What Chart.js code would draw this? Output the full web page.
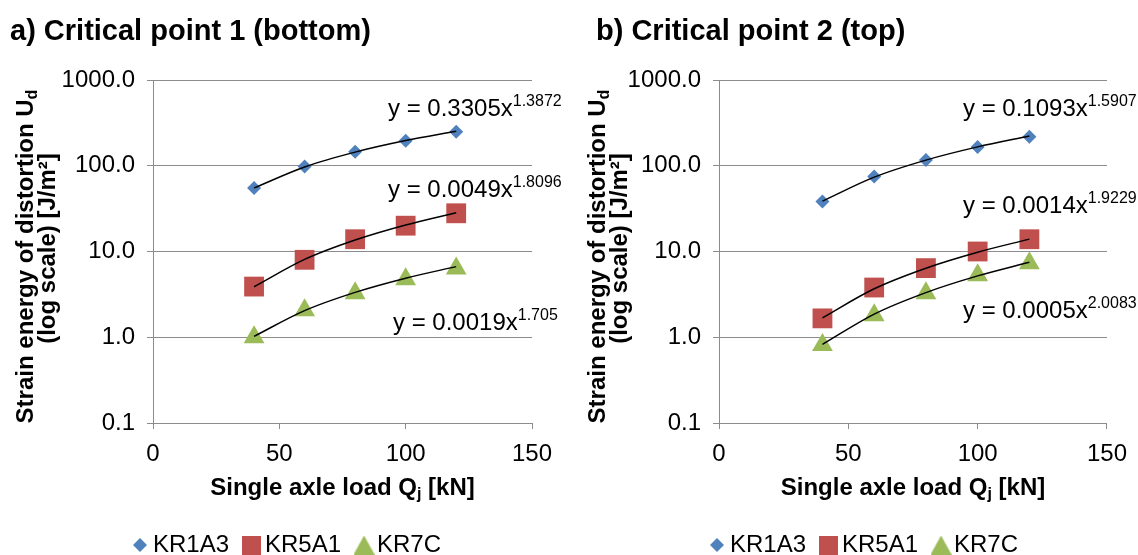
<!DOCTYPE html>
<html>
<head>
<meta charset="utf-8">
<script src="https://cdn.jsdelivr.net/npm/chart.js@4.4.1/dist/chart.umd.min.js"></script>
<style>
    body { margin: 0; background: #fff; width: 1138px; height: 555px; overflow: hidden; position: relative; }
    canvas { position: absolute; top: 0; }
</style>
</head>
<body>
<canvas id="chartA" width="575" height="555" style="left:0"></canvas>
<canvas id="chartB" width="563" height="555" style="left:575px"></canvas>
<script>
// x values (single axle load, kN) and axis ticks
const loads = [40, 60, 80, 100, 120];
const xTicks = [0, 50, 100, 150];
const yTicks = [0.1, 1, 10, 100, 1000];
const seriesNames = ["KR1A3", "KR5A1", "KR7C"];

// a) critical point 1 (bottom)
const bottomKR1A3 = [55, 98, 146, 196, 249];
const bottomKR5A1 = [3.9, 8.0, 13.9, 20.0, 27.9];
const bottomKR7C = [1.0, 2.07, 3.26, 4.75, 6.35];
const bottomCoef = [0.3305, 0.0049, 0.0019];
const bottomExp = [1.3872, 1.8096, 1.705];

// b) critical point 2 (top)
const topKR1A3 = [38.3, 75, 117, 166, 218];
const topKR5A1 = [1.66, 3.8, 6.4, 10.0, 13.9];
const topKR7C = [0.81, 1.8, 3.26, 5.3, 7.3];
const topCoef = [0.1093, 0.0014, 0.0005];
const topExp = [1.5907, 1.9229, 2.0083];

const FONT = "'Liberation Sans', Arial, sans-serif";
const colors = ["#4F81BD", "#C0504D", "#9BBB59"];
const styles = ["rectRot", "rect", "triangle"];
const radii = [7, 14, 12];
const gridColor = "#8c8c8c";
const H = 555;
const PAD_BOTTOM = -12;
const FS = 24;

Chart.defaults.font.family = FONT;

function makeIcon(i) {
    let c = document.createElement("canvas");
    let sizes = [[14, 14], [19, 19], [21, 19]];
    c.width = sizes[i][0];
    c.height = sizes[i][1];
    let ctx = c.getContext("2d");
    ctx.fillStyle = colors[i];
    ctx.beginPath();
    if (i == 0) {
        ctx.moveTo(7, 0); ctx.lineTo(14, 7); ctx.lineTo(7, 14); ctx.lineTo(0, 7);
    } else if (i == 1) {
        ctx.rect(0, 0, 19, 19);
    } else {
        ctx.moveTo(10.5, 0); ctx.lineTo(21, 19); ctx.lineTo(0, 19);
    }
    ctx.fill();
    return c;
}
const legendIcons = [0, 1, 2].map(makeIcon);

function drawRuns(ctx, runs, x, y, weight) {
    runs.forEach(([t, size, dy]) => {
        ctx.font = `${weight} ${size}px ${FONT}`;
        ctx.fillText(t, x, y + dy);
        x += ctx.measureText(t).width;
    });
}

function runsWidth(ctx, runs, weight) {
    return runs.reduce((acc, [t, size]) => {
        ctx.font = `${weight} ${size}px ${FONT}`;
        return acc + ctx.measureText(t).width;
    }, 0);
}

function textPlugin(cfg) {
    return {
        id: "textDeco",
        afterDraw(chart) {
            const ctx = chart.ctx;
            const area = chart.chartArea;
            ctx.save();
            ctx.fillStyle = "#000";
            ctx.textAlign = "left";
            ctx.textBaseline = "alphabetic";
            drawRuns(ctx, [[cfg.title, 29, 0]], cfg.titleX, 40, "bold");

            // equations of the trendlines
            cfg.coef.forEach((a, i) => {
                let [ex, ey] = cfg.eqPos[i];
                drawRuns(ctx, [["y = " + a + "x", FS, 0], [String(cfg.expo[i]), 16, -10]], ex, ey, "normal");
            });

            // x axis title
            ctx.textBaseline = "middle";
            let xr = [["Single axle load Q", FS, 0], ["j", 16, 7], [" [kN]", FS, 0]];
            let cx = (area.left + area.right) / 2;
            drawRuns(ctx, xr, cx - runsWidth(ctx, xr, "bold") / 2, 488, "bold");

            // y axis title, two rotated lines
            let cy = (area.top + area.bottom) / 2;
            let lines = [
                [["Strain energy of distortion U", FS, 0], ["d", 16, 7]],
                [["(log scale) [J/m\u00B2]", FS, 0]]
            ];
            let shift = [5, -3];
            lines.forEach((runs, k) => {
                ctx.save();
                ctx.translate(cfg.yTitleX[k], cy + shift[k]);
                ctx.rotate(-Math.PI / 2);
                drawRuns(ctx, runs, -runsWidth(ctx, runs, "bold") / 2, 0, "bold");
                ctx.restore();
            });
            ctx.restore();
        }
    };
}

function makeChart(id, values, coef, expo, area, canvasW, legendCenter, cfg) {
    let datasets = [];
    values.forEach((vals, i) => {
        datasets.push({
            label: seriesNames[i],
            data: loads.map((x, k) => ({ x: x, y: vals[k] })),
            pointStyle: styles[i],
            pointRadius: radii[i],
            pointHoverRadius: radii[i],
            backgroundColor: colors[i],
            borderColor: colors[i],
            borderWidth: 0,
            order: 2
        });
    });
    // power trendlines y = a * x^b, evaluated at the measured loads
    coef.forEach((a, i) => {
        datasets.push({
            label: "trend",
            data: loads.map(x => ({ x: x, y: a * Math.pow(x, expo[i]) })),
            showLine: true,
            borderColor: "#000",
            borderWidth: 1.5,
            pointRadius: 0,
            cubicInterpolationMode: "monotone",
            order: 1
        });
    });

    let padRight = canvasW - area.right;
    let padLeft = 2 * legendCenter - (canvasW - padRight);

    return new Chart(document.getElementById(id), {
        type: "scatter",
        data: { datasets: datasets },
        options: {
            responsive: false,
            animation: false,
            devicePixelRatio: 1,
            layout: { padding: { top: area.top, left: padLeft, right: padRight, bottom: PAD_BOTTOM } },
            plugins: {
                tooltip: { enabled: false },
                title: { display: false },
                legend: {
                    position: "bottom",
                    labels: {
                        usePointStyle: true,
                        boxWidth: 2,
                        boxHeight: 2,
                        padding: 22,
                        color: "#000",
                        font: { size: FS },
                        generateLabels: () => seriesNames.map((name, i) => ({
                            text: name,
                            pointStyle: legendIcons[i],
                            fillStyle: colors[i],
                            strokeStyle: colors[i],
                            lineWidth: 0,
                            hidden: false,
                            datasetIndex: i,
                            fontColor: "#000"
                        }))
                    }
                }
            },
            scales: {
                x: {
                    type: "linear",
                    min: 0,
                    max: 150,
                    afterBuildTicks: s => { s.ticks = xTicks.map(v => ({ value: v })); },
                    afterFit: s => { s.height = H - PAD_BOTTOM - area.bottom - s.chart.legend.height; },
                    ticks: { color: "#000", font: { size: FS }, padding: 11, maxRotation: 0 },
                    grid: { drawOnChartArea: false, drawTicks: true, tickLength: 6, color: gridColor },
                    border: { color: gridColor, width: 1 }
                },
                y: {
                    type: "logarithmic",
                    min: 0.1,
                    max: 1000,
                    afterBuildTicks: s => { s.ticks = yTicks.map(v => ({ value: v })); },
                    afterFit: s => { s.width = area.left - padLeft; },
                    ticks: { color: "#000", font: { size: FS }, padding: 12, callback: v => Number(v).toFixed(1) },
                    grid: { color: gridColor, tickLength: 6, tickColor: gridColor },
                    border: { color: gridColor, width: 1 }
                }
            }
        },
        plugins: [textPlugin(Object.assign({ coef: coef, expo: expo }, cfg))]
    });
}

makeChart("chartA", [bottomKR1A3, bottomKR5A1, bottomKR7C], bottomCoef, bottomExp,
    { left: 153, right: 532, top: 80, bottom: 423 }, 575, 290,
    { title: "a) Critical point 1 (bottom)", titleX: 10, yTitleX: [26, 48],
      eqPos: [[388, 116], [388, 197], [393, 330]] });

makeChart("chartB", [topKR1A3, topKR5A1, topKR7C], topCoef, topExp,
    { left: 144, right: 536, top: 80, bottom: 423 }, 563, 292,
    { title: "b) Critical point 2 (top)", titleX: 21, yTitleX: [23, 45],
      eqPos: [[388, 116], [388, 213], [388, 318]] });
</script>
</body>
</html>
